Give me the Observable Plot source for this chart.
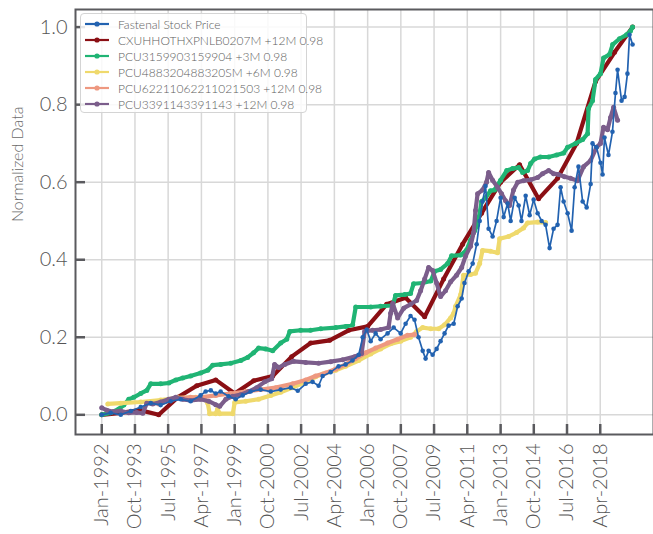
<!DOCTYPE html>
<html><head><meta charset="utf-8">
<script src="https://cdn.jsdelivr.net/npm/d3@7"></script>
<script src="https://cdn.jsdelivr.net/npm/@observablehq/plot@0.6"></script>
<style>
body{margin:0;background:#fff;font-family:Lato,sans-serif;}
#wrap{position:relative;width:653px;height:534px;overflow:hidden;}
#legend{position:absolute;left:80px;top:13px;width:227px;height:100px;border:1px solid #d4d4d4;border-radius:4px;background:rgba(255,255,255,0.85);padding-top:2px;box-sizing:border-box;}
.row{height:16px;display:flex;align-items:center;font-size:12px;color:#606060;white-space:nowrap;font-weight:300;}
.row svg{margin-left:3px;margin-right:8px;flex:none;}
svg text{font-weight:300;}
</style></head><body><div id="wrap"><div id="chart"></div><div id="legend"></div></div>
<script>
const seriesNames = ["Fastenal Stock Price","CXUHHOTHXPNLB0207M +12M 0.98","PCU3159903159904 +3M 0.98","PCU488320488320SM +6M 0.98","PCU62211062211021503 +12M 0.98","PCU3391143391143 +12M 0.98"];
const seriesColors = ["#2262b0","#8b0f14","#20b474","#efd96c","#ee9880","#7b5d8b"];

const xTickLabels = ["Jan-1992","Oct-1993","Jul-1995","Apr-1997","Jan-1999","Oct-2000","Jul-2002","Apr-2004","Jan-2006","Oct-2007","Jul-2009","Apr-2011","Jan-2013","Oct-2014","Jul-2016","Apr-2018"];
const yTicks = [0.0,0.2,0.4,0.6,0.8,1.0];

// [decimal year, normalized value]
const fastenal = [[1992.0,0.0],[1992.47,0.005],[1993.0,0.0],[1993.53,0.01],[1994.05,0.02],[1994.58,0.03],[1995.1,0.025],[1995.63,0.035],[1996.16,0.04],[1996.68,0.035],[1997.2,0.05],[1997.47,0.06],[1997.74,0.063],[1998.0,0.055],[1998.26,0.06],[1998.68,0.048],[1999.05,0.04],[1999.42,0.05],[1999.84,0.06],[2000.37,0.065],[2000.9,0.06],[2001.42,0.065],[2001.95,0.07],[2002.32,0.062],[2002.74,0.08],[2003.1,0.085],[2003.42,0.075],[2003.63,0.1],[2004.05,0.11],[2004.47,0.125],[2004.84,0.13],[2005.2,0.14],[2005.53,0.155],[2005.74,0.2],[2005.95,0.22],[2006.16,0.19],[2006.42,0.21],[2006.68,0.195],[2007.05,0.21],[2007.37,0.225],[2007.74,0.21],[2008.0,0.235],[2008.26,0.255],[2008.47,0.245],[2008.68,0.2],[2008.9,0.165],[2009.05,0.145],[2009.21,0.165],[2009.42,0.155],[2009.63,0.17],[2009.84,0.19],[2010.05,0.21],[2010.26,0.23],[2010.53,0.235],[2010.74,0.28],[2010.95,0.3],[2011.1,0.34],[2011.32,0.37],[2011.53,0.39],[2011.74,0.44],[2011.9,0.5],[2012.05,0.55],[2012.21,0.59],[2012.37,0.48],[2012.58,0.46],[2012.79,0.5],[2013.0,0.56],[2013.16,0.51],[2013.37,0.545],[2013.53,0.5],[2013.74,0.56],[2013.95,0.54],[2014.1,0.5],[2014.32,0.565],[2014.53,0.515],[2014.74,0.555],[2014.95,0.52],[2015.16,0.5],[2015.37,0.49],[2015.58,0.43],[2015.79,0.48],[2016.0,0.49],[2016.16,0.587],[2016.32,0.55],[2016.53,0.52],[2016.74,0.475],[2016.9,0.587],[2017.1,0.64],[2017.32,0.55],[2017.53,0.535],[2017.74,0.595],[2017.84,0.7],[2018.05,0.69],[2018.26,0.65],[2018.37,0.62],[2018.47,0.715],[2018.68,0.67],[2018.89,0.73],[2019.05,0.83],[2019.16,0.89],[2019.37,0.81],[2019.53,0.82],[2019.68,0.88],[2019.79,0.98],[2019.95,0.955]];
const cxuhh = [[1992.0,0.0],[1993.0,0.005],[1994.0,0.012],[1995.0,0.0],[1996.0,0.045],[1997.0,0.075],[1998.0,0.09],[1999.0,0.055],[2000.0,0.088],[2001.0,0.1],[2002.0,0.15],[2003.0,0.185],[2004.0,0.192],[2005.0,0.218],[2006.0,0.228],[2007.0,0.285],[2008.0,0.302],[2009.0,0.253],[2010.0,0.35],[2011.0,0.44],[2012.0,0.52],[2013.0,0.6],[2014.0,0.645],[2015.0,0.557],[2016.0,0.61],[2017.0,0.7],[2018.0,0.86],[2019.0,0.935],[2019.95,1.0]];
const pcu3159 = [[1992.0,0.0],[1992.47,0.005],[1992.9,0.015],[1993.16,0.025],[1993.42,0.04],[1993.68,0.045],[1994.05,0.055],[1994.37,0.063],[1994.58,0.08],[1995.1,0.08],[1995.53,0.082],[1995.9,0.09],[1996.26,0.095],[1996.68,0.1],[1997.2,0.108],[1997.58,0.115],[1997.84,0.128],[1998.26,0.13],[1998.79,0.133],[1999.32,0.14],[1999.68,0.148],[2000.0,0.16],[2000.26,0.172],[2000.63,0.17],[2001.0,0.165],[2001.42,0.185],[2001.74,0.195],[2001.9,0.215],[2002.47,0.218],[2003.0,0.218],[2003.53,0.222],[2004.32,0.225],[2004.84,0.228],[2005.21,0.232],[2005.37,0.278],[2006.16,0.278],[2006.68,0.28],[2007.32,0.282],[2007.47,0.308],[2007.95,0.31],[2008.26,0.313],[2008.42,0.338],[2008.9,0.34],[2009.32,0.345],[2009.53,0.37],[2009.84,0.375],[2010.21,0.39],[2010.42,0.41],[2010.9,0.412],[2011.21,0.425],[2011.42,0.45],[2011.63,0.475],[2011.79,0.49],[2012.0,0.55],[2012.21,0.56],[2012.47,0.578],[2012.68,0.58],[2013.0,0.605],[2013.32,0.63],[2013.63,0.635],[2013.95,0.638],[2014.16,0.625],[2014.42,0.63],[2014.58,0.648],[2014.79,0.66],[2015.1,0.665],[2015.53,0.665],[2015.95,0.67],[2016.32,0.675],[2016.53,0.69],[2016.95,0.7],[2017.32,0.71],[2017.58,0.725],[2017.63,0.79],[2017.84,0.81],[2018.0,0.865],[2018.26,0.88],[2018.42,0.92],[2018.74,0.93],[2018.9,0.955],[2019.26,0.97],[2019.63,0.98],[2019.84,0.99],[2019.95,1.0]];
const pcu4883 = [[1992.32,0.028],[1993.0,0.03],[1994.05,0.033],[1995.1,0.038],[1996.0,0.044],[1996.95,0.045],[1997.42,0.04],[1997.58,0.03],[1997.68,0.003],[1998.0,0.003],[1998.1,0.015],[1998.21,0.003],[1998.9,0.003],[1999.0,0.032],[1999.58,0.035],[2000.26,0.04],[2000.9,0.05],[2001.42,0.058],[2002.05,0.07],[2002.74,0.085],[2003.26,0.098],[2003.63,0.105],[2004.32,0.115],[2004.84,0.125],[2005.53,0.14],[2006.16,0.157],[2006.68,0.17],[2007.21,0.183],[2007.74,0.19],[2008.26,0.2],[2008.58,0.215],[2008.9,0.225],[2009.32,0.222],[2009.74,0.222],[2010.05,0.232],[2010.37,0.25],[2010.53,0.262],[2010.63,0.28],[2010.9,0.31],[2011.05,0.36],[2011.42,0.362],[2011.68,0.365],[2011.9,0.39],[2012.05,0.424],[2012.47,0.422],[2012.84,0.418],[2012.95,0.454],[2013.42,0.46],[2013.84,0.47],[2014.21,0.482],[2014.42,0.495],[2014.95,0.497],[2015.37,0.496]];
const pcu6221 = [[1995.0,0.028],[1995.9,0.042],[1996.68,0.045],[1997.2,0.045],[1998.0,0.05],[1998.79,0.055],[1999.58,0.06],[2000.37,0.065],[2001.16,0.07],[2002.05,0.08],[2002.74,0.09],[2003.26,0.1],[2003.79,0.108],[2004.32,0.118],[2004.84,0.13],[2005.37,0.145],[2005.9,0.16],[2006.42,0.172],[2007.05,0.185],[2007.58,0.195],[2008.1,0.205],[2008.47,0.207]];
const pcu3391 = [[1992.0,0.018],[1992.26,0.012],[1992.58,0.008],[1993.0,0.01],[1993.42,0.005],[1993.84,0.006],[1994.16,0.004],[1994.37,0.03],[1994.68,0.028],[1995.1,0.033],[1995.53,0.04],[1995.9,0.045],[1996.26,0.04],[1996.68,0.037],[1997.2,0.04],[1997.63,0.035],[1998.0,0.026],[1998.21,0.022],[1998.53,0.04],[1998.9,0.048],[1999.32,0.052],[1999.74,0.06],[2000.16,0.07],[2000.58,0.085],[2000.95,0.093],[2001.1,0.13],[2001.32,0.122],[2001.63,0.13],[2002.1,0.138],[2002.74,0.135],[2003.42,0.133],[2004.05,0.137],[2004.68,0.142],[2005.32,0.15],[2005.68,0.158],[2005.84,0.215],[2006.26,0.218],[2006.68,0.22],[2007.1,0.225],[2007.21,0.262],[2007.32,0.287],[2007.58,0.25],[2007.9,0.275],[2008.26,0.285],[2008.58,0.295],[2008.79,0.32],[2009.0,0.35],[2009.21,0.38],[2009.42,0.372],[2009.63,0.34],[2009.84,0.305],[2010.1,0.32],[2010.37,0.343],[2010.68,0.36],[2010.95,0.38],[2011.16,0.41],[2011.42,0.435],[2011.58,0.47],[2011.68,0.527],[2011.79,0.57],[2012.05,0.58],[2012.26,0.6],[2012.37,0.625],[2012.58,0.605],[2012.84,0.587],[2013.05,0.57],[2013.26,0.552],[2013.47,0.54],[2013.68,0.58],[2013.9,0.6],[2014.21,0.604],[2014.58,0.606],[2014.95,0.612],[2015.21,0.622],[2015.53,0.63],[2015.79,0.622],[2016.05,0.62],[2016.37,0.614],[2016.68,0.61],[2017.05,0.604],[2017.37,0.64],[2017.74,0.656],[2018.05,0.69],[2018.26,0.7],[2018.42,0.742],[2018.63,0.735],[2018.79,0.767],[2018.95,0.793],[2019.16,0.76]];

const seriesData = [fastenal, cxuhh, pcu3159, pcu4883, pcu6221, pcu3391];

const toDate = y => { const yr = Math.floor(y); return new Date(Date.UTC(yr,0,1) + (y-yr)*365.2425*864e5); };
const monthIdx = {Jan:0,Feb:1,Mar:2,Apr:3,May:4,Jun:5,Jul:6,Aug:7,Sep:8,Oct:9,Nov:10,Dec:11};
const xTickDates = xTickLabels.map(s => { const [m,y] = s.split("-"); return new Date(Date.UTC(+y, monthIdx[m], 1)); });
const labelByTime = new Map(xTickDates.map((d,i) => [+d, xTickLabels[i]]));

const rows = seriesData.map((pts,k) => pts.map(([yr,v]) => ({k, date: toDate(yr), value: v})));

const lineMarks = [];
[1,2,3,4,5].forEach(k => {
  lineMarks.push(Plot.line(rows[k], {x:"date", y:"value", stroke: seriesColors[k], strokeWidth: 4.2, strokeLinejoin:"round"}));
  lineMarks.push(Plot.dot(rows[k], {x:"date", y:"value", fill: seriesColors[k], r: 2.5}));
});
lineMarks.push(Plot.line(rows[0], {x:"date", y:"value", stroke: seriesColors[0], strokeWidth: 1.7}));
lineMarks.push(Plot.dot(rows[0], {x:"date", y:"value", fill: seriesColors[0], r: 2.3}));

const chart = Plot.plot({
  width: 653, height: 534,
  marginLeft: 75, marginRight: 0, marginTop: 9, marginBottom: 100,
  x: {type: "utc", domain: [toDate(1990.617), toDate(2021.05)]},
  y: {domain: [-0.0508, 1.0454]},
  style: {fontFamily: "Lato, sans-serif", color: "#555", background: "transparent", overflow: "visible"},
  marks: [
    Plot.gridY(yTicks, {stroke: "#d8d8d8", strokeOpacity: 1, strokeWidth: 1.5}),
    Plot.gridX(xTickDates, {stroke: "#d8d8d8", strokeOpacity: 1, strokeWidth: 1.5}),
    ...lineMarks,
    Plot.frame({stroke: "#5a5a5e", strokeWidth: 2}),
    Plot.ruleY(yTicks, {stroke: "#5a5a5e", strokeWidth: 2.5, insetRight: 568}),
    Plot.ruleX(xTickDates, {stroke: "#5a5a5e", strokeWidth: 2.5, insetTop: 415}),
    Plot.axisY(yTicks, {tickSize: 0, tickPadding: 8, tickFormat: d3.format(".1f"), fontSize: 20, label: null, fill: "#555"}),
    Plot.axisX(xTickDates, {tickSize: 0, tickRotate: -90, tickPadding: 9, tickFormat: d => labelByTime.get(+d), fontSize: 20, label: null, fill: "#555"}),
    Plot.text(["Normalized Data"], {frameAnchor: "left", rotate: -90, dx: -58, fontSize: 16, fill: "#6a6a6a"})
  ]
});
document.getElementById("chart").appendChild(chart);

const legend = document.getElementById("legend");
seriesNames.forEach((name, k) => {
  const row = document.createElement("div");
  row.className = "row";
  row.innerHTML = `<svg width="26" height="16"><line x1="1" y1="8" x2="25" y2="8" stroke="${seriesColors[k]}" stroke-width="2.2"/><circle cx="13" cy="8" r="2.6" fill="${seriesColors[k]}"/></svg><span>${name}</span>`;
  legend.appendChild(row);
});
</script>
</body></html>
